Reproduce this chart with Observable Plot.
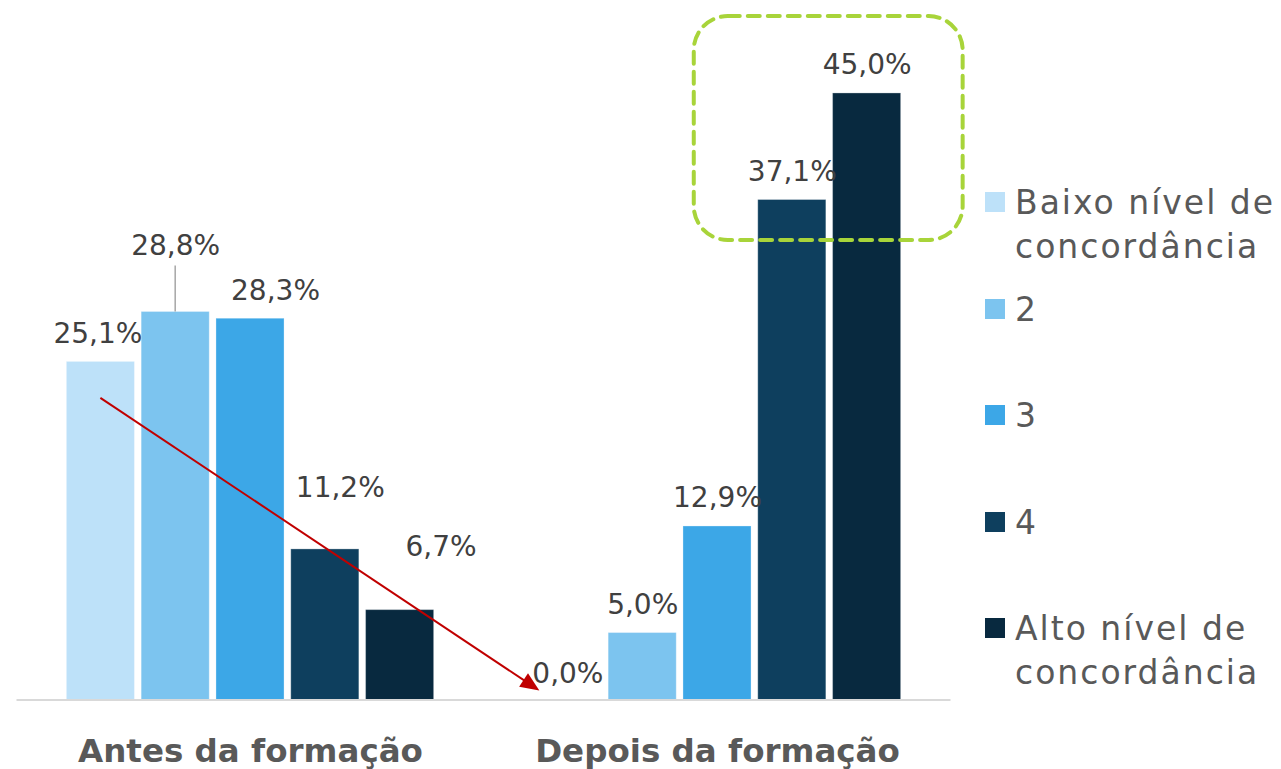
<!DOCTYPE html>
<html>
<head>
<meta charset="utf-8">
<script src="https://cdn.jsdelivr.net/npm/d3@7"></script>
<script src="https://cdn.jsdelivr.net/npm/@observablehq/plot@0.6"></script>
<style>
  body { margin: 0; background: #fff; font-family: "DejaVu Sans", sans-serif; }
  #wrap { position: relative; width: 1281px; height: 769px; overflow: hidden; background: #fff; }
  #chart { position: absolute; left: 0; top: 0; }
  .item { position: absolute; left: 985px; }
  .sw { position: absolute; left: 0; width: 20px; height: 20px; }
  .lab { position: absolute; left: 30px; width: 290px; font-size: 33px; line-height: 44px; color: #595959; letter-spacing: 2px; }
</style>
</head>
<body>
<div id="wrap"><div id="chart"></div><div id="legend"></div></div>
<script>
// ---- data ----
const groups = ["Antes da formação", "Depois da formação"];
const levels = ["Baixo nível de concordância", "2", "3", "4", "Alto nível de concordância"];
const antes = [25.1, 28.8, 28.3, 11.2, 6.7];
const depois = [0.0, 5.0, 12.9, 37.1, 45.0];
const colors = ["#BDE1F9", "#7CC4EF", "#3CA7E7", "#0E3F5E", "#08293F"];

// label nudges (pixels) for manually placed value labels
const defaultNudge = [0, -19];
const nudges = {
  "Antes da formação|0": [-3, -19],
  "Antes da formação|1": [0, -57],
  "Antes da formação|2": [25, -19],
  "Antes da formação|3": [15, -52],
  "Antes da formação|4": [41, -54],
  "Depois da formação|0": [0, -18]
};

const data = groups.flatMap((g, gi) =>
  levels.map((l, li) => ({group: g, level: l, idx: li, value: [antes, depois][gi][li]}))
);
const fmt = d => d.value.toFixed(1).replace(".", ",") + "%";

const valueLabels = data.map(d => {
  const [dx, dy] = nudges[d.group + "|" + d.idx] || defaultNudge;
  return Plot.text([d], {
    fx: "group", x: "level", y: "value", text: fmt,
    dx, dy, lineAnchor: "bottom", textAnchor: "middle",
    fontSize: 28, fill: "#404040"
  });
});

const chart = Plot.plot({
  width: 975,
  height: 769,
  marginLeft: 16.5,
  marginRight: 24.5,
  marginTop: 0,
  marginBottom: 69,
  style: {fontFamily: "DejaVu Sans", background: "transparent", overflow: "visible"},
  fx: {domain: groups, paddingInner: 0.2135, paddingOuter: 0.10675, round: false, axis: null, label: null},
  x: {domain: levels, paddingInner: 0.09, paddingOuter: 0, round: false, axis: null},
  y: {domain: [0, 51.89], axis: null},
  color: {domain: levels, range: colors},
  marks: [
    Plot.barY(data.filter(d => d.value > 0), {
      fx: "group", x: "level", y: "value", fill: "level",
      stroke: "#ffffff", strokeOpacity: 0.3, strokeWidth: 1
    }),
    ...valueLabels,
    Plot.text(groups, {
      fx: d => d, text: d => d, frameAnchor: "bottom", lineAnchor: "bottom",
      dy: 61, fontSize: 32.5, fontWeight: "bold", fill: "#595959"
    })
  ]
});
document.getElementById("chart").appendChild(chart);

// ---- annotations drawn with the plot's scales ----
const sFx = chart.scale("fx"), sX = chart.scale("x"), sY = chart.scale("y");
const bw = sX.bandwidth;
const xpos = (g, l) => sFx.apply(g) + sX.apply(l) - sX.range[0];
const svg = d3.select(chart);

// baseline
svg.append("line")
  .attr("x1", 16.5).attr("x2", 975 - 24.5)
  .attr("y1", sY.apply(0)).attr("y2", sY.apply(0))
  .attr("stroke", "#d9d9d9").attr("stroke-width", 2);

// leader line for 28,8%
{
  const cx = xpos(groups[0], levels[1]) + bw / 2;
  const y0 = sY.apply(antes[1]);
  svg.append("line").attr("x1", cx).attr("x2", cx)
    .attr("y1", y0).attr("y2", y0 - 46)
    .attr("stroke", "#a6a6a6").attr("stroke-width", 1.5);
}

// red arrow
{
  const x1 = xpos(groups[0], levels[0]) + bw / 2, y1 = sY.apply(22.4);
  const x2 = xpos(groups[1], levels[0]) + 6, y2 = sY.apply(0.7);
  const len = Math.hypot(x2 - x1, y2 - y1);
  const ux = (x2 - x1) / len, uy = (y2 - y1) / len;
  const nx = -uy, ny = ux;
  const hl = 19, hw = 8;
  svg.append("line").attr("x1", x1).attr("y1", y1)
    .attr("x2", x2 - ux * (hl - 3)).attr("y2", y2 - uy * (hl - 3))
    .attr("stroke", "#C00000").attr("stroke-width", 2);
  const bx = x2 - ux * hl, by = y2 - uy * hl;
  svg.append("polygon")
    .attr("points", [[x2, y2], [bx + nx * hw, by + ny * hw], [bx - nx * hw, by - ny * hw]].map(p => p.join(",")).join(" "))
    .attr("fill", "#C00000");
}

// green dashed highlight
{
  const left = xpos(groups[1], levels[3]) - 64;
  const right = xpos(groups[1], levels[4]) + bw + 62;
  const top = sY.apply(50.7), bottom = sY.apply(34.1);
  svg.append("rect")
    .attr("x", left).attr("y", top)
    .attr("width", right - left).attr("height", bottom - top)
    .attr("rx", 34).attr("ry", 34)
    .attr("fill", "none").attr("stroke", "#A8D43A")
    .attr("stroke-width", 4).attr("stroke-dasharray", "12 8")
    .attr("stroke-linecap", "round");
}

// ---- legend ----
const legend = document.getElementById("legend");
const centers = [202, 308.5, 415, 521.5, 628];
levels.forEach((l, i) => {
  const item = document.createElement("div");
  item.className = "item";
  item.style.top = (centers[i] - 21) + "px";
  const sw = document.createElement("div");
  sw.className = "sw";
  sw.style.top = "11px";
  sw.style.background = colors[i];
  const lab = document.createElement("div");
  lab.className = "lab";
  lab.style.top = "0px";
  lab.textContent = l;
  item.appendChild(sw);
  item.appendChild(lab);
  legend.appendChild(item);
});
</script>
</body>
</html>
